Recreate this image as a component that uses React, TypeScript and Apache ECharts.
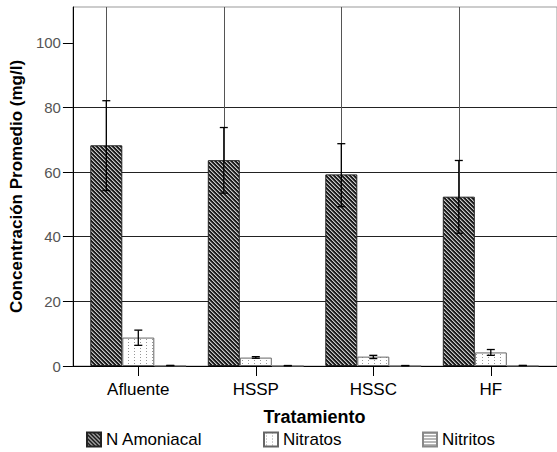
import React, { useEffect, useRef } from 'react';
import * as echarts from 'echarts';

const categories = ['Afluente', 'HSSP', 'HSSC', 'HF'];
const seriesNames = ['N Amoniacal', 'Nitratos', 'Nitritos'];

const amoniacal = [68.3, 63.7, 59.3, 52.4];
const amoniacalLow = [54.3, 53.5, 49.3, 41.1];
const amoniacalHigh = [82.1, 73.8, 68.8, 63.6];

const nitratos = [8.8, 2.6, 2.9, 4.2];
const nitratosLow = [6.4, 2.4, 2.3, 3.3];
const nitratosHigh = [11.1, 2.9, 3.3, 5.1];

const nitritos = [0.15, 0.1, 0.1, 0.15];
const nitritosLow = [0.1, 0.05, 0.05, 0.1];
const nitritosHigh = [0.2, 0.15, 0.15, 0.2];

const yTicks = [0, 20, 40, 60, 80, 100];
const yMax = 111.1;

const FONT = '"Liberation Sans", Arial, sans-serif';

function makeTile(w: number, h: number, fn: (x: number, y: number) => number[]) {
  const c = document.createElement('canvas');
  c.width = w;
  c.height = h;
  const ctx = c.getContext('2d')!;
  const img = ctx.createImageData(w, h);
  for (let y = 0; y < h; y++) {
    for (let x = 0; x < w; x++) {
      const [r, g, b] = fn(x, y);
      const k = (y * w + x) * 4;
      img.data[k] = r;
      img.data[k + 1] = g;
      img.data[k + 2] = b;
      img.data[k + 3] = 255;
    }
  }
  ctx.putImageData(img, 0, 0);
  return { image: c.toDataURL(), repeat: 'repeat', imageWidth: w, imageHeight: h } as any;
}

export default function App() {
  const ref = useRef<HTMLDivElement>(null);
  useEffect(() => {
    document.body.style.margin = '0';
    if (!ref.current) return;
    const chart = echarts.init(ref.current, null, { renderer: 'svg' });

    const hatch = makeTile(8, 8, (x, y) => {
      const m = (((x - y) % 4) + 4) % 4;
      return m === 0 ? [200, 200, 200] : m === 1 ? [110, 110, 110] : [28, 28, 28];
    });
    const dots = makeTile(6, 3, (x, y) => (x === 2 && y === 0 ? [150, 150, 150] : [255, 255, 255]));
    const lines = makeTile(4, 3, (x, y) => (y === 0 ? [110, 110, 110] : [255, 255, 255]));

    const values = [amoniacal, nitratos, nitritos];
    const lows = [amoniacalLow, nitratosLow, nitritosLow];
    const highs = [amoniacalHigh, nitratosHigh, nitritosHigh];
    const fills = [hatch, dots, lines];
    const borders = ['#222', '#666', '#888'];
    const offsets = [-32, 0, 32];

    const barSeries = seriesNames.map((name, s) => ({
      name,
      type: 'bar',
      xAxisIndex: 1,
      yAxisIndex: 1,
      barWidth: 32,
      barGap: '0%',
      z: 2,
      itemStyle: { color: fills[s], borderColor: borders[s], borderWidth: 1 },
      data: values[s],
      ...(s === 0
        ? {
            markLine: {
              silent: true,
              z: 1,
              symbol: 'none',
              label: { show: false },
              lineStyle: { color: '#555', type: 'solid', width: 1 },
              data: categories.map((c) => ({ xAxis: c })),
            },
          }
        : {}),
    }));

    const errSeries = seriesNames.map((name, s) => ({
      name: name + ' error',
      type: 'custom',
      xAxisIndex: 1,
      yAxisIndex: 1,
      z: 10,
      silent: true,
      encode: { x: 0, y: [1, 2] },
      data: categories.map((c, i) => [i, lows[s][i], highs[s][i]]),
      renderItem: (params: any, api: any) => {
        const i = api.value(0);
        const lo = api.coord([i, api.value(1)]);
        const hi = api.coord([i, api.value(2)]);
        const x = lo[0] + offsets[s];
        const style = { stroke: '#000', lineWidth: 1.3 };
        return {
          type: 'group',
          children: [
            { type: 'line', shape: { x1: x, y1: lo[1], x2: x, y2: hi[1] }, style },
            { type: 'line', shape: { x1: x - 4, y1: lo[1], x2: x + 4, y2: lo[1] }, style },
            { type: 'line', shape: { x1: x - 4, y1: hi[1], x2: x + 4, y2: hi[1] }, style },
          ],
        };
      },
    }));

    const legendBase = {
      icon: 'rect',
      itemWidth: 14,
      itemHeight: 14,
      padding: 0,
      top: 431,
      selectedMode: false,
      textStyle: { fontSize: 17, color: '#000', fontFamily: FONT },
    };

    chart.setOption({
      animation: false,
      textStyle: { fontFamily: FONT },
      grid: [
        { left: 66, right: -5, top: 7, bottom: 86, show: true, borderColor: '#999', borderWidth: 1 },
        { left: 79.55, right: 7.45, top: 7, bottom: 86 },
      ],
      xAxis: [
        {
          gridIndex: 0,
          type: 'value',
          min: 0,
          max: 1,
          axisLine: { show: true, lineStyle: { color: '#000', width: 1 } },
          axisTick: { show: false },
          axisLabel: { show: false },
          splitLine: { show: false },
        },
        {
          gridIndex: 1,
          type: 'category',
          data: categories,
          axisLine: { show: false },
          axisTick: { show: true, alignWithLabel: true, length: 10, lineStyle: { color: '#000' } },
          axisLabel: { margin: 15, fontSize: 17, color: '#000', fontFamily: FONT },
          splitLine: { show: false },
          name: 'Tratamiento',
          nameLocation: 'middle',
          nameGap: 42,
          nameTextStyle: { fontSize: 18, fontWeight: 'bold', color: '#000', fontFamily: FONT },
        },
      ],
      yAxis: [
        {
          gridIndex: 0,
          type: 'value',
          min: 0,
          max: yMax,
          interval: 20,
          axisLine: { show: true, lineStyle: { color: '#000' } },
          axisTick: { show: true, length: 10, customValues: yTicks, lineStyle: { color: '#000' } },
          axisLabel: {
            customValues: yTicks,
            margin: 12,
            fontSize: 15,
            color: '#555',
            fontFamily: FONT,
            formatter: (v: number) => (v > 100.5 ? '' : String(v)),
          },
          splitLine: { show: true, showMaxLine: false, lineStyle: { color: '#222', width: 1 } },
          name: 'Concentración Promedio (mg/l)',
          nameLocation: 'middle',
          nameGap: 33,
          nameTextStyle: { fontSize: 17, fontWeight: 'bold', color: '#000', fontFamily: FONT },
        },
        { gridIndex: 1, type: 'value', min: 0, max: yMax, show: false },
      ],
      legend: [
        { ...legendBase, left: 86, data: ['N Amoniacal'] },
        { ...legendBase, left: 263, data: ['Nitratos'] },
        { ...legendBase, left: 422, data: ['Nitritos'] },
      ],
      series: [...barSeries, ...errSeries],
    });

    return () => chart.dispose();
  }, []);

  return <div ref={ref} style={{ width: 557, height: 452, position: 'absolute', left: 0, top: 0 }} />;
}
